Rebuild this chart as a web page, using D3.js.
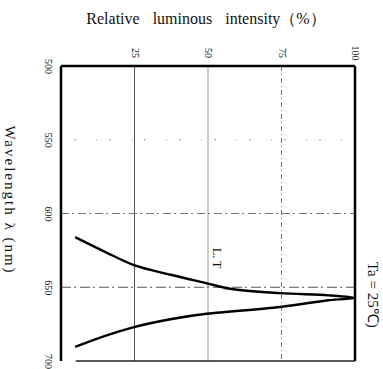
<!DOCTYPE html>
<html><head><meta charset="utf-8">
<script src="https://cdn.jsdelivr.net/npm/d3@7"></script>
<style>body{margin:0;background:#fff}svg{display:block}text{font-family:"Liberation Serif","Times New Roman",serif;fill:#111}</style>
</head><body><svg id="c" width="383" height="369"></svg>
<script>
const wavelength = [616, 626, 635, 641.7, 647, 651, 654, 655.5, 657.3, 658.8, 663.4, 668, 671.5, 677, 683, 690.5];
const intensity  = [4.8, 15, 24.8, 37.7, 49, 57.5, 74.5, 91, 100, 91, 74.5, 49.5, 37.7, 24.8, 15, 4.8];
const intensityTicks = [25, 50, 75, 100];
const wavelengthTicks = [500, 550, 600, 650, 700];

const svg = d3.select("#c");
const x = d3.scaleLinear().domain([0, 100]).range([61, 355]);
const y = d3.scaleLinear().domain([500, 700]).range([66, 361]);

// grid lines
const vStyles = {25: null, 50: null, 75: "5,3,1,3"};
const vColors = {25: "#555", 50: "#999", 75: "#777"};
svg.append("g").selectAll("line").data([25, 50, 75]).join("line")
  .attr("x1", d => x(d)).attr("x2", d => x(d)).attr("y1", y(500)).attr("y2", y(700))
  .attr("stroke", d => vColors[d]).attr("stroke-width", 1)
  .attr("stroke-dasharray", d => vStyles[d]);
const hStyles = {550: "1,12,2,20", 600: "8,3,2,4", 650: "10,3,2,4"};
const hColors = {550: "#999", 600: "#777", 650: "#555"};
svg.append("g").selectAll("line").data([550, 600, 650]).join("line")
  .attr("x1", x(0)).attr("x2", x(100)).attr("y1", d => y(d)).attr("y2", d => y(d))
  .attr("stroke", d => hColors[d]).attr("stroke-width", 1)
  .attr("stroke-dasharray", d => hStyles[d]);

// frame
svg.append("line").attr("x1", x(0)).attr("x2", x(100)).attr("y1", y(500)).attr("y2", y(500)).attr("stroke", "#000").attr("stroke-width", 2.5);
svg.append("line").attr("x1", x(0)).attr("x2", x(0)).attr("y1", y(500)).attr("y2", y(700)).attr("stroke", "#000").attr("stroke-width", 2.5);
svg.append("line").attr("x1", x(100)).attr("x2", x(100)).attr("y1", y(500)).attr("y2", y(700)).attr("stroke", "#000").attr("stroke-width", 2.5);
svg.append("line").attr("x1", x(5)).attr("x2", x(100)).attr("y1", y(700)).attr("y2", y(700)).attr("stroke", "#222").attr("stroke-width", 1.3);

// axes (labels only)
const topAxis = svg.append("g").attr("transform", `translate(0,${y(500)})`)
  .call(d3.axisTop(x).tickValues(intensityTicks).tickSize(0).tickPadding(0));
topAxis.select(".domain").remove();
topAxis.selectAll("text").attr("font-size", 10).attr("y", 0).attr("dy", null)
  .attr("text-anchor", "middle")
  .attr("transform", "translate(0,-13) rotate(90)").attr("dominant-baseline", "central");

const leftAxis = svg.append("g").attr("transform", `translate(${x(0)},0)`)
  .call(d3.axisLeft(y).tickValues(wavelengthTicks).tickSize(0).tickPadding(0));
leftAxis.select(".domain").remove();
leftAxis.selectAll("text").attr("font-size", 10).attr("x", 0).attr("dy", null)
  .attr("text-anchor", "middle")
  .attr("transform", "translate(-13,0) rotate(90)").attr("dominant-baseline", "central");

// curve
const pts = wavelength.map((w, i) => [intensity[i], w]);
svg.append("path").datum(pts)
  .attr("d", d3.line().x(d => x(d[0])).y(d => y(d[1])).curve(d3.curveCatmullRom.alpha(0.5)))
  .attr("fill", "none").attr("stroke", "#000").attr("stroke-width", 2.4);

// titles
svg.append("text").attr("x", 206).attr("y", 24).attr("text-anchor", "middle")
  .attr("font-size", 16).attr("word-spacing", 9).text("Relative luminous intensity（%）");
svg.append("text").attr("transform", "translate(10,200) rotate(90)").attr("text-anchor", "middle")
  .attr("dominant-baseline", "central").attr("font-size", 15).attr("letter-spacing", 2)
  .text("Wavelength λ (nm)");
svg.append("text").attr("transform", "translate(373,262) rotate(90)").attr("text-anchor", "start")
  .attr("dominant-baseline", "central").attr("font-size", 15)
  .text("Ta = 25℃)");
svg.append("text").attr("transform", "translate(217,248) rotate(90)").attr("text-anchor", "start")
  .attr("dominant-baseline", "central").attr("font-size", 12)
  .text("L. T");
</script></body></html>
